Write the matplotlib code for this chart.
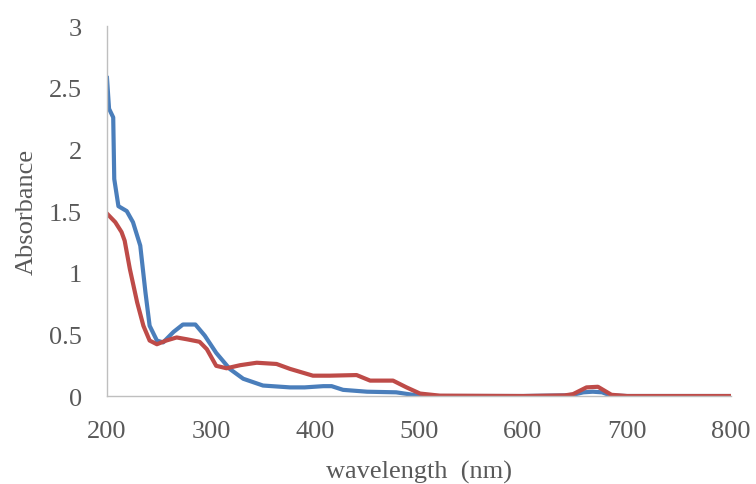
import matplotlib
matplotlib.use("Agg")
import matplotlib.pyplot as plt

# wavelength (nm) / absorbance
wl_blue = [200, 202, 206, 207, 211, 219, 225, 232, 237, 241, 248, 254, 264, 273,
           285, 294, 305, 318, 331, 350, 376, 390, 408, 416, 427, 450, 478, 494,
           501, 520, 600, 640, 648, 658, 667, 676, 684, 700, 800]
abs_blue = [2.58, 2.33, 2.26, 1.76, 1.54, 1.50, 1.41, 1.22, 0.84, 0.57, 0.45, 0.435,
            0.52, 0.58, 0.58, 0.49, 0.35, 0.22, 0.14, 0.085, 0.07, 0.07, 0.08, 0.08,
            0.05, 0.035, 0.03, 0.01, 0.0, 0.0, 0.0, 0.005, 0.01, 0.03, 0.035, 0.03,
            0.005, 0.0, 0.0]

wl_red = [200, 208, 214, 217, 222, 229, 235, 241, 248, 257, 267, 277, 289, 296,
          305, 315, 328, 344, 363, 376, 392, 398, 414, 440, 453, 475, 488, 501,
          520, 600, 640, 648, 661, 672, 685, 700, 800]
abs_red = [1.48, 1.41, 1.33, 1.26, 1.03, 0.76, 0.57, 0.45, 0.42, 0.45, 0.475, 0.46,
           0.44, 0.38, 0.245, 0.225, 0.25, 0.27, 0.26, 0.22, 0.18, 0.165, 0.165,
           0.17, 0.125, 0.125, 0.07, 0.02, 0.003, 0.0, 0.005, 0.015, 0.07, 0.075,
           0.01, 0.0, 0.0]

plt.rcParams['font.family'] = ['Liberation Serif', 'DejaVu Serif']

fig = plt.figure(figsize=(7.56, 4.85), dpi=100)
ax = fig.add_axes([0.1415, 0.1814, 0.8255, 0.7626])

ax.plot(wl_blue, abs_blue, color='#4A7EBB', lw=3.0, solid_joinstyle='round')
ax.plot(wl_red, abs_red, color='#BE4B48', lw=3.0, solid_joinstyle='round')

ax.set_xlim(200, 800)
ax.set_ylim(0, 3)
ax.set_xticks([200, 300, 400, 500, 600, 700, 800])
ax.set_yticks([0, 0.5, 1, 1.5, 2, 2.5, 3])
ax.set_yticklabels(['0', '0.5', '1', '1.5', '2', '2.5', '3'])

for s in ['top', 'right']:
    ax.spines[s].set_visible(False)
for s in ['left', 'bottom']:
    ax.spines[s].set_color('#BFBFBF')
    ax.spines[s].set_linewidth(1.0)

ax.tick_params(axis='both', length=0, labelsize=19, labelcolor='#595959')
ax.tick_params(axis='x', pad=17)
ax.tick_params(axis='y', pad=18)

ax.set_xlabel('wavelength  (nm)', fontsize=19, color='#595959', labelpad=13)
ax.set_ylabel('Absorbance', fontsize=19, color='#595959', labelpad=8)

plt.savefig('out.png', dpi=100)
